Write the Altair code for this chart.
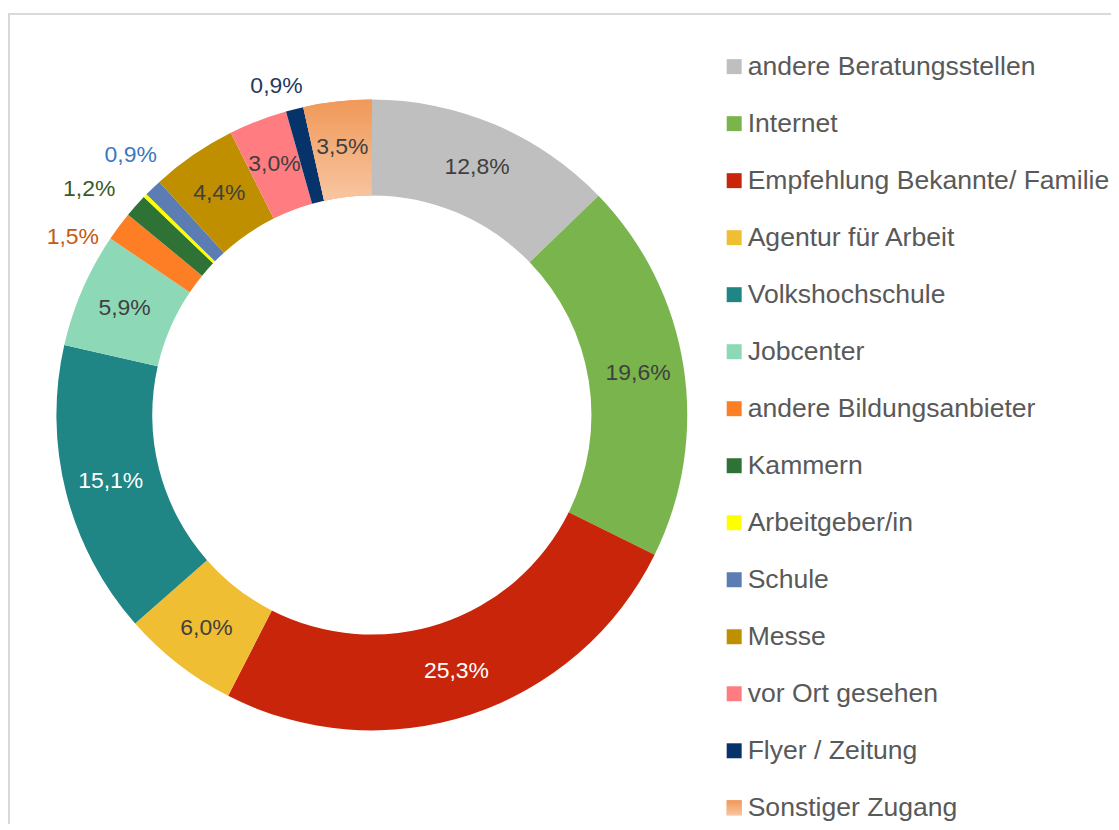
import altair as alt
import pandas as pd

categories = [
    "andere Beratungsstellen", "Internet", "Empfehlung Bekannte/ Familie",
    "Agentur für Arbeit", "Volkshochschule", "Jobcenter",
    "andere Bildungsanbieter", "Kammern", "Arbeitgeber/in", "Schule",
    "Messe", "vor Ort gesehen", "Flyer / Zeitung", "Sonstiger Zugang",
]
values = [12.8, 19.6, 25.3, 6.0, 15.1, 5.9, 1.5, 1.2, 0.2, 0.9, 4.4, 3.0, 0.9, 3.5]
colors = [
    "#bfbfbf", "#79b54c", "#c9250a", "#f0be32", "#208585", "#8dd9b7",
    "#fd7e25", "#2e7236", "#ffff00", "#5b7db4", "#bf8f00", "#ff7c80",
    "#06336a", "#f29b5f",
]
white_labels = ["Volkshochschule", "Empfehlung Bekannte/ Familie"]
no_label = ["Arbeitgeber/in"]
outside_labels = {
    "andere Bildungsanbieter": ("#c55a11", -23, 28),
    "Kammern": ("#3a5a28", -25, 2),
    "Schule": ("#3a78c0", -2, -12),
    "Flyer / Zeitung": ("#1f3864", -11, 5),
}

total = sum(values)
df = pd.DataFrame({
    "cat": categories,
    "value": values,
    "order": list(range(len(categories))),
    "label": [f"{v:.1f}".replace(".", ",") + "%" for v in values],
})

FONT = "Liberation Sans"
CX, CY = 364.5, 407
R_IN, R_OUT = 220, 316

theta_scale = alt.Scale(domain=[0, total])
color_scale = alt.Scale(domain=categories, range=colors)

base = alt.Chart(df).transform_window(
    v1="sum(value)", sort=[alt.SortField("order")], frame=[None, 0]
).transform_calculate(
    v0="datum.v1 - datum.value", mid="datum.v1 - datum.value / 2"
)

arcs = base.mark_arc(innerRadius=R_IN, outerRadius=R_OUT).encode(
    theta=alt.Theta("v0:Q", scale=theta_scale),
    theta2="v1:Q",
    color=alt.Color("cat:N", scale=color_scale, legend=None),
    x=alt.value(CX), y=alt.value(CY),
)

grad = alt.LinearGradient(
    gradient="linear", x1=0, x2=0, y1=0, y2=1,
    stops=[alt.GradientStop(offset=0, color="#f09858"),
           alt.GradientStop(offset=1, color="#f8c6a2")],
)
grad_arc = base.transform_filter(
    alt.datum.cat == "Sonstiger Zugang"
).mark_arc(innerRadius=R_IN, outerRadius=R_OUT, fill=grad).encode(
    theta=alt.Theta("v0:Q", scale=theta_scale),
    theta2="v1:Q",
    x=alt.value(CX), y=alt.value(CY),
)

inner = base.transform_filter(
    ~alt.FieldOneOfPredicate(field="cat", oneOf=list(outside_labels) + no_label)
).mark_text(radius=270, fontSize=23, font=FONT, align="center", baseline="middle").encode(
    theta=alt.Theta("mid:Q", scale=theta_scale),
    text="label:N",
    color=alt.condition(
        alt.FieldOneOfPredicate(field="cat", oneOf=white_labels),
        alt.value("#ffffff"), alt.value("#404040"),
    ),
    x=alt.value(CX), y=alt.value(CY),
)

outer_layers = []
for name, (col, ddx, ddy) in outside_labels.items():
    outer_layers.append(
        base.transform_filter(alt.datum.cat == name).mark_text(
            radius=345, fontSize=23, font=FONT, align="center",
            baseline="middle", color=col, dx=ddx, dy=ddy,
        ).encode(
            theta=alt.Theta("mid:Q", scale=theta_scale),
            text="label:N",
            x=alt.value(CX), y=alt.value(CY),
        )
    )

legend_y = alt.Y("cat:N", sort=categories, axis=None,
                 scale=alt.Scale(type="point", domain=categories, range=[58, 800.5], padding=0))

leg_sq = alt.Chart(df).mark_square(size=225, opacity=1).encode(
    x=alt.value(727.5), y=legend_y,
    color=alt.Color("cat:N", scale=color_scale, legend=None),
)
leg_sq_grad = alt.Chart(df).transform_filter(
    alt.datum.cat == "Sonstiger Zugang"
).mark_square(size=225, opacity=1, fill=grad).encode(
    x=alt.value(727.5), y=legend_y,
)
leg_txt = alt.Chart(df).mark_text(
    align="left", baseline="middle", fontSize=26.6, font=FONT, color="#595959"
).encode(x=alt.value(741), y=legend_y, text="cat:N")

border = alt.Chart(df).mark_rect(
    fillOpacity=0, stroke="#d9d9d9", strokeWidth=1.5
).encode(x=alt.value(1), x2=alt.value(1400), y=alt.value(5), y2=alt.value(1200))

chart = alt.layer(
    border, arcs, grad_arc, inner, *outer_layers, leg_sq, leg_sq_grad, leg_txt
).properties(
    width=1105, height=816,
    autosize=alt.AutoSizeParams(type="none"),
    padding=0,
).configure_view(strokeWidth=0)

chart.save("out.html", embed_options={"renderer": "svg", "actions": False})
